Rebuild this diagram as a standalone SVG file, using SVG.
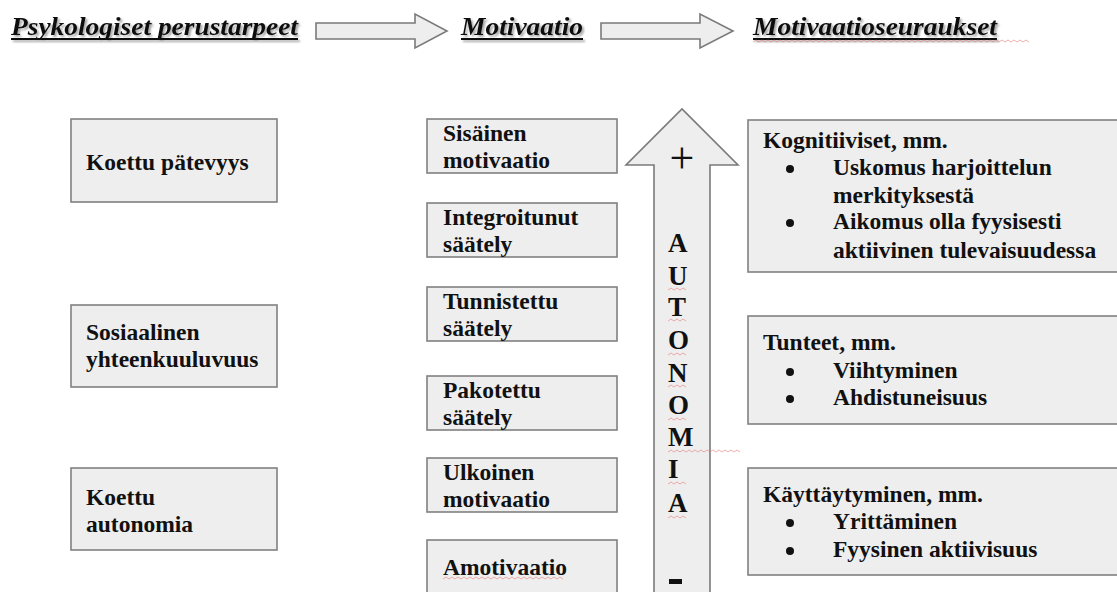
<svg xmlns="http://www.w3.org/2000/svg" width="1117" height="592" viewBox="0 0 1117 592">
<defs>
<style>
.box{fill:#eeeeee;stroke:#808080;stroke-width:1.6}
.arr{fill:#eeeeee;stroke:#7a7a7a;stroke-width:1.6}
.t{font-family:"Liberation Serif","Times New Roman",serif;font-weight:bold;font-size:23.5px;fill:#111}
.h{font-family:"Liberation Serif","Times New Roman",serif;font-weight:bold;font-style:italic;font-size:26px;fill:#111}
.ul{stroke:#111;stroke-width:2}
.sp{fill:none;stroke:#e88080;stroke-width:0.8;opacity:0.8}
.L{font-family:"Liberation Serif","Times New Roman",serif;font-weight:bold;font-size:27px;fill:#111}
</style>
<filter id="sh" x="-5%" y="-30%" width="110%" height="160%">
<feGaussianBlur in="SourceAlpha" stdDeviation="1"/>
<feOffset dx="1.5" dy="1.5" result="b"/>
<feComponentTransfer><feFuncA type="linear" slope="0.35"/></feComponentTransfer>
<feMerge><feMergeNode/><feMergeNode in="SourceGraphic"/></feMerge>
</filter>
</defs>
<rect width="1117" height="592" fill="#ffffff"/>

<g id="headers">
<g filter="url(#sh)">
<text class="h" x="11" y="35" textLength="287" lengthAdjust="spacingAndGlyphs">Psykologiset perustarpeet</text>
<line class="ul" x1="11" y1="39" x2="298" y2="39"/>
<text class="h" x="461" y="35" textLength="122" lengthAdjust="spacingAndGlyphs">Motivaatio</text>
<line class="ul" x1="461" y1="39" x2="583" y2="39"/>
<text class="h" x="753" y="35" textLength="244" lengthAdjust="spacingAndGlyphs">Motivaatioseuraukset</text>
<line class="ul" x1="753" y1="39" x2="997" y2="39"/>
</g>
<path class="sp" d="M753 42 l3 -2 l3 2 l3 -2 l3 2 l3 -2 l3 2 l3 -2 l3 2 l3 -2 l3 2 l3 -2 l3 2 l3 -2 l3 2 l3 -2 l3 2 l3 -2 l3 2 l3 -2 l3 2 l3 -2 l3 2 l3 -2 l3 2 l3 -2 l3 2 l3 -2 l3 2 l3 -2 l3 2 l3 -2 l3 2 l3 -2 l3 2 l3 -2 l3 2 l3 -2 l3 2 l3 -2 l3 2 l3 -2 l3 2 l3 -2 l3 2 l3 -2 l3 2 l3 -2 l3 2 l3 -2 l3 2 l3 -2 l3 2 l3 -2 l3 2 l3 -2 l3 2 l3 -2 l3 2 l3 -2 l3 2 l3 -2 l3 2 l3 -2 l3 2 l3 -2 l3 2 l3 -2 l3 2 l3 -2 l3 2 l3 -2 l3 2 l3 -2 l3 2 l3 -2 l3 2 l3 -2 l3 2 l3 -2 l3 2 l3 -2 l3 2 l3 -2 l3 2 l3 -2 l3 2 l3 -2 l3 2 l3 -2 l3 2 l3 -2 l3 2"/>
</g>

<g id="connectors">
<path class="arr" d="M316 23 H415 V14 L447 31 L415 48 V39 H316 Z"/>
<path class="arr" d="M601 23 H700 V14 L733 31 L700 48 V39 H601 Z"/>
</g>

<g id="need-patevyys">
<rect class="box" x="71" y="119" width="206" height="83"/>
<text class="t" x="86" y="170">Koettu pätevyys</text>
</g>
<g id="need-yhteenkuuluvuus">
<rect class="box" x="71" y="305" width="206" height="82"/>
<text class="t" x="86" y="340">Sosiaalinen</text>
<text class="t" x="86" y="367">yhteenkuuluvuus</text>
</g>
<g id="need-autonomia">
<rect class="box" x="71" y="468" width="206" height="82"/>
<text class="t" x="86" y="505">Koettu</text>
<text class="t" x="86" y="532">autonomia</text>
</g>

<g id="mot-sisainen">
<rect class="box" x="427" y="119" width="190" height="54"/>
<text class="t" x="443" y="141">Sisäinen</text>
<text class="t" x="443" y="168">motivaatio</text>
</g>
<g id="mot-integroitunut">
<rect class="box" x="427" y="203" width="190" height="54"/>
<text class="t" x="443" y="225">Integroitunut</text>
<text class="t" x="443" y="252">säätely</text>
</g>
<g id="mot-tunnistettu">
<rect class="box" x="427" y="287" width="190" height="54"/>
<text class="t" x="443" y="309">Tunnistettu</text>
<text class="t" x="443" y="336">säätely</text>
</g>
<g id="mot-pakotettu">
<rect class="box" x="427" y="376" width="190" height="54"/>
<text class="t" x="443" y="398">Pakotettu</text>
<text class="t" x="443" y="425">säätely</text>
</g>
<g id="mot-ulkoinen">
<rect class="box" x="427" y="458" width="190" height="54"/>
<text class="t" x="443" y="480">Ulkoinen</text>
<text class="t" x="443" y="507">motivaatio</text>
</g>
<g id="mot-amotivaatio">
<rect class="box" x="427" y="540" width="190" height="70"/>
<text class="t" x="443" y="575">Amotivaatio</text>
<path class="sp" d="M443 579 l3 -2 l3 2 l3 -2 l3 2 l3 -2 l3 2 l3 -2 l3 2 l3 -2 l3 2 l3 -2 l3 2 l3 -2 l3 2 l3 -2 l3 2 l3 -2 l3 2 l3 -2 l3 2 l3 -2 l3 2 l3 -2 l3 2 l3 -2 l3 2 l3 -2 l3 2 l3 -2 l3 2 l3 -2 l3 2 l3 -2 l3 2 l3 -2 l3 2 l3 -2 l3 2 l3 -2 l3 2"/>
</g>

<g id="autonomia-arrow">
<path class="arr" d="M654 610 V165 H626 L682 109 L738 165 H710 V610 Z"/>
<text x="682" y="173" text-anchor="middle" font-family="Liberation Serif, serif" font-size="44" fill="#111">+</text>
<text class="L" x="668" y="252">A</text>
<text class="L" x="668" y="285">U</text>
<text class="L" x="668" y="316">T</text>
<text class="L" x="668" y="349">O</text>
<text class="L" x="668" y="382">N</text>
<text class="L" x="668" y="414">O</text>
<text class="L" x="668" y="446">M</text>
<text class="L" x="668" y="478">I</text>
<text class="L" x="668" y="512">A</text>
<rect x="669" y="579" width="13" height="5" fill="#111"/>
<path class="sp" d="M668 290 l3 -2 l3 2 l3 -2 l3 2 l3 -2 l3 2 M668 321 l3 -2 l3 2 l3 -2 l3 2 l3 -2 l3 2 M668 355 l3 -2 l3 2 l3 -2 l3 2 l3 -2 l3 2 M668 387 l3 -2 l3 2 l3 -2 l3 2 l3 -2 l3 2 M668 420 l3 -2 l3 2 l3 -2 l3 2 l3 -2 l3 2 M668 452 l3 -2 l3 2 l3 -2 l3 2 l3 -2 l3 2 l3 -2 l3 2 l3 -2 l3 2 l3 -2 l3 2 l3 -2 l3 2 l3 -2 l3 2 l3 -2 l3 2 l3 -2 l3 2 l3 -2 l3 2 l3 -2 l3 2 M668 484 l3 -2 l3 2 l3 -2 l3 2 l3 -2 l3 2 M668 518 l3 -2 l3 2 l3 -2 l3 2 l3 -2 l3 2"/>
</g>

<g id="seur-kognitiiviset">
<rect class="box" x="748" y="120" width="380" height="152"/>
<text class="t" x="763" y="148">Kognitiiviset, mm.</text>
<circle cx="790" cy="169" r="4" fill="#111"/>
<text class="t" x="833" y="175">Uskomus harjoittelun</text>
<text class="t" x="833" y="203">merkityksestä</text>
<circle cx="790" cy="223" r="4" fill="#111"/>
<text class="t" x="833" y="229">Aikomus olla fyysisesti</text>
<text class="t" x="833" y="258">aktiivinen tulevaisuudessa</text>
</g>
<g id="seur-tunteet">
<rect class="box" x="748" y="316" width="380" height="108"/>
<text class="t" x="763" y="350">Tunteet, mm.</text>
<circle cx="790" cy="372" r="4" fill="#111"/>
<text class="t" x="833" y="378">Viihtyminen</text>
<circle cx="790" cy="399" r="4" fill="#111"/>
<text class="t" x="833" y="405">Ahdistuneisuus</text>
</g>
<g id="seur-kayttaytyminen">
<rect class="box" x="748" y="468" width="380" height="107"/>
<text class="t" x="763" y="502">Käyttäytyminen, mm.</text>
<circle cx="790" cy="523" r="4" fill="#111"/>
<text class="t" x="833" y="529">Yrittäminen</text>
<circle cx="790" cy="551" r="4" fill="#111"/>
<text class="t" x="833" y="557">Fyysinen aktiivisuus</text>
</g>
</svg>
